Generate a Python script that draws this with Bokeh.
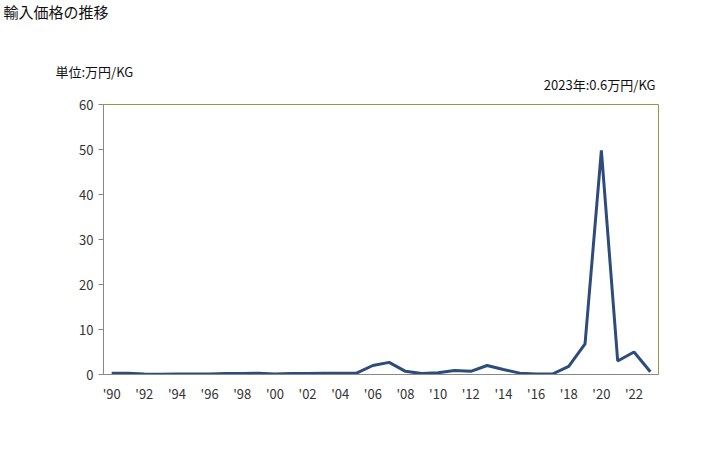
from bokeh.plotting import figure
from bokeh.models import FixedTicker, Range1d, Title
from bokeh.embed import file_html
from bokeh.resources import INLINE

years = list(range(1990, 2024))
values = [0.3, 0.3, 0.1, 0.05, 0.1, 0.1, 0.1, 0.2, 0.2, 0.3,
          0.1, 0.2, 0.2, 0.3, 0.3, 0.3, 2.0, 2.7, 0.7, 0.2,
          0.4, 0.9, 0.7, 2.0, 1.1, 0.3, 0.1, 0.1, 1.8, 6.8,
          49.8, 3.0, 5.0, 0.6]
y_ticks = [0, 10, 20, 30, 40, 50, 60]
x_ticks = list(range(1990, 2023, 2))
x_labels = {t: "'" + str(t)[2:] for t in x_ticks}

title_text = "輸入価格の推移"
unit_text = "単位:万円/KG"
note_text = "2023年:0.6万円/KG"

FONT = "Noto Sans CJK JP"

p = figure(width=712, height=434, output_backend="svg", toolbar_location=None,
           title=None,
           x_range=Range1d(1989.5, 2023.5), y_range=Range1d(0, 60),
           min_border_left=103, min_border_right=54, min_border_top=104, min_border_bottom=60)
p.background_fill_color = "white"
p.border_fill_color = "white"
p.outline_line_color = "#9c9448"
p.outline_line_width = 1
p.xgrid.grid_line_color = None
p.ygrid.grid_line_color = None

p.line(years, values, line_color="#2d4b7b", line_width=3)

p.yaxis.ticker = FixedTicker(ticks=y_ticks)
p.yaxis.axis_line_color = "#888888"
p.yaxis.major_tick_line_color = "#888888"
p.yaxis.major_tick_out = 5
p.yaxis.major_tick_in = 0
p.yaxis.minor_tick_line_color = None
p.yaxis.major_label_standoff = 5
p.yaxis.major_label_text_font = FONT
p.yaxis.major_label_text_font_size = "13px"
p.yaxis.major_label_text_color = "#333333"

p.xaxis.ticker = FixedTicker(ticks=x_ticks)
p.xaxis.major_label_overrides = x_labels
p.xaxis.axis_line_color = "#888888"
p.xaxis.major_tick_line_color = None
p.xaxis.minor_tick_line_color = None
p.xaxis.major_label_standoff = 3
p.xaxis.major_label_text_font = FONT
p.xaxis.major_label_text_font_size = "13px"
p.xaxis.major_label_text_color = "#333333"

# stacked from the frame outward
p.add_layout(Title(text=note_text, align="right", offset=3, standoff=22,
                   vertical_align="bottom",
                   text_font=FONT, text_font_size="13px", text_font_style="normal",
                   text_color="#111111"), "above")
p.add_layout(Title(text=unit_text, align="left", offset=-48, standoff=-38,
                   vertical_align="bottom",
                   text_font=FONT, text_font_size="13px", text_font_style="normal",
                   text_color="#111111"), "above")
p.add_layout(Title(text=" ", align="left", offset=0, standoff=22,
                   vertical_align="bottom",
                   text_font=FONT, text_font_size="13px"), "above")
p.add_layout(Title(text=title_text, align="left", offset=-100, standoff=-6,
                   vertical_align="bottom",
                   text_font=FONT, text_font_size="15px", text_font_style="normal",
                   text_color="#111111"), "above")

open("out.html", "w").write(file_html(p, INLINE))
